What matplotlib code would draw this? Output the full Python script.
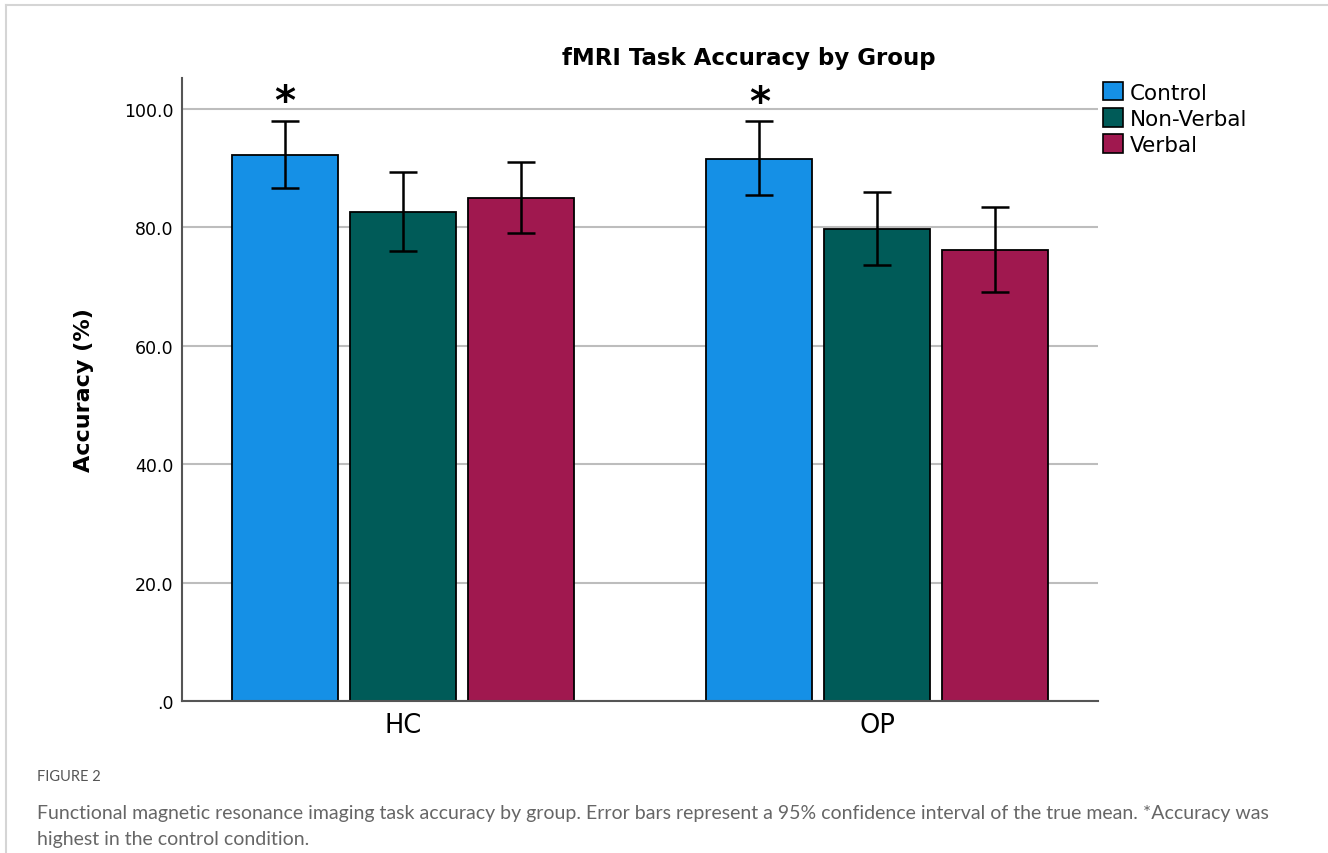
import numpy as np
import matplotlib.pyplot as plt
from matplotlib.lines import Line2D
from matplotlib.patches import Patch

groups = ["HC", "OP"]
conditions = ["Control", "Non-Verbal", "Verbal"]
colors = ["#1590E6", "#005B58", "#A0184F"]

# mean accuracy (%) per condition, one value per group
means = {
    "Control": [92.2, 91.6],
    "Non-Verbal": [82.6, 79.7],
    "Verbal": [85.0, 76.2],
}
ci_low = {
    "Control": [86.7, 85.5],
    "Non-Verbal": [76.0, 73.6],
    "Verbal": [79.1, 69.1],
}
ci_high = {
    "Control": [98.0, 97.9],
    "Non-Verbal": [89.4, 86.0],
    "Verbal": [91.0, 83.4],
}
starred = ["Control"]

yticks = [0, 20, 40, 60, 80, 100]
ytick_labels = [".0", "20.0", "40.0", "60.0", "80.0", "100.0"]

caption_head = "FIGURE 2"
caption_lines = [
    "Functional magnetic resonance imaging task accuracy by group. Error bars represent a 95% confidence interval of the true mean. *Accuracy was",
    "highest in the control condition.",
]

fig = plt.figure(figsize=(13.28, 8.54), dpi=100)
ax = fig.add_axes([0.1370, 0.1780, 0.6898, 0.7295])

x = np.arange(len(groups))
width = 0.2234
step = 0.2487

for i, cond in enumerate(conditions):
    pos = x + (i - 1) * step
    m = np.array(means[cond])
    lo = m - np.array(ci_low[cond])
    hi = np.array(ci_high[cond]) - m
    ax.bar(pos, m, width, color=colors[i], edgecolor="black", linewidth=1.3,
           zorder=2, label=cond)
    ax.errorbar(pos, m, yerr=[lo, hi], fmt="none", ecolor="black",
                elinewidth=1.8, capsize=10, capthick=1.8, zorder=3)
    if cond in starred:
        for p, top in zip(pos, ci_high[cond]):
            ax.annotate("*", (p, top), xytext=(0, -1), textcoords="offset points",
                        ha="center", va="bottom", fontsize=29, fontweight="bold")

ax.set_xlim(-0.466, 1.465)
ax.set_ylim(0, 105.2)
ax.set_yticks(yticks)
ax.set_yticklabels(ytick_labels, fontsize=12.5)
ax.set_xticks(x)
ax.set_xticklabels(groups, fontsize=18.5)
ax.tick_params(axis="both", length=0, pad=6)
ax.tick_params(axis="x", pad=8)
ax.yaxis.grid(True, color="#BDBDBD", linewidth=1.5, zorder=0)
ax.set_axisbelow(True)
for side in ["top", "right"]:
    ax.spines[side].set_visible(False)
for side in ["left", "bottom"]:
    ax.spines[side].set_color("#555555")
    ax.spines[side].set_linewidth(1.5)

ax.set_ylabel("Accuracy (%)", fontsize=16, fontweight="bold", labelpad=22)
fig.text(0.564, 0.931, "fMRI Task Accuracy by Group", ha="center", va="center",
         fontsize=16.5, fontweight="bold")

handles = [Patch(facecolor=c, edgecolor="black", linewidth=1.2) for c in colors]
fig.legend(handles, conditions, loc="upper left", bbox_to_anchor=(0.824, 0.913),
           frameon=False, fontsize=15.5, handlelength=0.95, handleheight=0.95,
           handletextpad=0.3, labelspacing=0.25, borderaxespad=0)

# light frame around the figure panel
frame = dict(color="#D5D5D5", linewidth=1.5)
fig.add_artist(Line2D([0.0045, 1.0], [0.993, 0.993], **frame))
fig.add_artist(Line2D([0.0045, 0.0045], [0.0, 0.993], **frame))

fig.text(0.028, 0.090, caption_head, fontsize=10.5, color="#555555",
         family="Lato", va="center")
fig.text(0.028, 0.048, caption_lines[0], fontsize=14, color="#666666",
         family="Lato", va="center")
fig.text(0.028, 0.017, caption_lines[1], fontsize=14, color="#666666",
         family="Lato", va="center")

fig.savefig("out.png", dpi=100, facecolor="white")
